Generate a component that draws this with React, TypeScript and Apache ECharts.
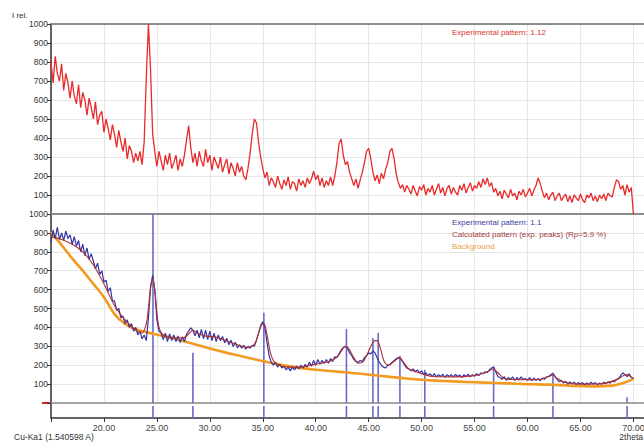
import React, { useEffect, useRef } from "react";
import * as echarts from "echarts";

// 2theta grid of the measured patterns
const X_START = 15;
const X_STEP = 0.2;

// Experimental pattern 1.12 (top panel), 15.0 .. 70.0 step 0.2
const topPattern = [
  800, 690, 830, 740, 700, 790, 650, 740, 690, 610,
  700, 620, 580, 680, 560, 640, 600, 520, 610, 560,
  500, 590, 470, 520, 540, 430, 500, 450, 390, 470,
  420, 350, 440, 380, 330, 400, 290, 360, 330, 270,
  320, 280, 330, 260, 380, 720, 1000, 760, 420, 330,
  250, 330, 280, 230, 310, 260, 320, 240, 270, 310,
  230, 290, 250, 310, 390, 465, 350, 270, 320, 250,
  330, 280, 250, 340, 270, 310, 230, 300, 270, 240,
  300, 220, 260, 290, 210, 270, 240, 200, 270, 220,
  250, 200, 180, 240, 320, 420, 500, 480, 380, 300,
  240, 190, 220, 150, 190, 170, 140, 200, 160, 130,
  180, 150, 195, 130, 170, 160, 120, 185, 150, 175,
  140, 190, 160, 185, 225, 180, 205, 150, 190, 140,
  175, 150, 195, 150, 200, 270, 370, 395, 310, 260,
  275, 220, 185, 150, 185, 135, 180, 220, 270, 330,
  345, 290, 220, 175, 205, 160, 215, 185, 235, 270,
  330, 345, 290, 210, 165, 135, 155, 115, 150, 130,
  105, 150, 120, 95, 145, 125, 155, 100, 135, 115,
  150, 100, 130, 160, 110, 140, 95, 135, 150, 105,
  140, 115, 100, 150, 125, 160, 110, 140, 165, 120,
  150, 135, 170, 140, 185, 155, 190, 145, 165, 115,
  135, 95, 120, 80, 125, 105, 85, 130, 95, 110,
  75, 120, 100, 130, 90, 110, 135, 95, 125, 150,
  190, 160, 120, 85, 110, 75, 100, 115, 70, 95,
  110, 70, 90, 105, 65, 95, 60, 100, 85, 70,
  105, 75, 60, 100, 85, 110, 70, 95, 65, 100,
  80, 105, 70, 110, 95, 90, 140, 180, 170, 130,
  150, 100, 155, 115, 140, 0,
];

// Experimental pattern 1.1 (bottom panel), 15.0 .. 70.0 step 0.2
const expPattern = [
  850, 915, 870, 930, 865, 900, 860, 910, 870, 890,
  840, 880, 830, 860, 800, 840, 780, 820, 760, 790,
  750, 710, 740, 680, 700, 640, 650, 590, 610, 540,
  540, 490, 500, 450, 460, 420, 440, 400, 420, 380,
  400, 360, 380, 340, 360, 330, 450, 610, 675, 600,
  440, 380, 370, 335, 370, 325, 365, 330, 360, 325,
  355, 320, 350, 325, 365, 380, 398, 385, 355, 385,
  345, 390, 340, 385, 335, 380, 330, 370, 325, 360,
  330, 352, 318, 342, 308, 332, 298, 322, 292, 308,
  290, 305, 285, 300, 290, 305, 300, 330, 370, 410,
  430, 400, 320, 250, 215, 200, 215, 190, 205, 185,
  195, 175, 190, 170, 190, 175, 195, 180, 200, 185,
  205, 190, 215, 195, 225, 200, 230, 205, 225, 210,
  230, 210, 235, 220, 245, 240, 260, 280, 295, 300,
  290, 265, 250, 230, 220, 215, 225, 220, 240, 250,
  265, 260, 275, 265, 240, 215, 200, 190, 185, 200,
  205, 215, 225, 235, 240, 235, 220, 200, 185, 180,
  170, 180, 165, 175, 160, 170, 150, 160, 145, 155,
  140, 155, 138, 150, 140, 152, 135, 150, 140, 150,
  138, 152, 140, 148, 135, 150, 140, 152, 138, 150,
  142, 155, 145, 160, 155, 165, 160, 175, 185, 190,
  165, 140, 135, 125, 140, 120, 135, 125, 138, 120,
  135, 122, 138, 125, 130, 120, 135, 118, 132, 120,
  128, 118, 132, 125, 138, 140, 150, 158, 140, 125,
  112, 120, 105, 115, 100, 112, 102, 110, 98, 108,
  100, 108, 96, 106, 98, 110, 100, 108, 97, 105,
  100, 110, 102, 112, 105, 115, 112, 125, 130, 145,
  160, 150, 140, 155, 135, 130,
];

// Calculated pattern (exp. peaks)
const calcX = [
  15, 16, 17, 18, 19, 20, 21, 22, 23, 23.6, 24.0, 24.2, 24.4, 24.6, 24.8, 25.0, 25.2, 25.6,
  26.5, 27.5, 28.0, 28.4, 28.8, 29.5, 30.5, 31.5, 32.5, 33.5, 34.2, 34.6, 34.9, 35.1, 35.4,
  35.7, 36.0, 36.5, 37.5, 38.5, 39.5, 40.5, 41.5, 42.2, 42.6, 42.9, 43.2, 43.6, 44.0, 44.4,
  44.8, 45.2, 45.6, 45.8, 46.1, 46.5, 46.9, 47.4, 47.9, 48.3, 48.8, 49.5, 50.3, 51, 53, 55,
  56, 56.5, 56.8, 57.2, 57.8, 59, 61, 62, 62.4, 62.8, 63.5, 65, 67, 68.5, 69.3, 70,
];
const calcY = [
  880, 865, 840, 800, 730, 630, 515, 440, 385, 370, 420, 500, 610, 660, 600, 480, 400, 360,
  345, 345, 365, 385, 370, 355, 350, 330, 310, 295, 310, 370, 415, 420, 360,
  270, 225, 200, 190, 190, 200, 210, 225, 255, 290, 300, 280, 240, 210, 215,
  250, 300, 330, 330, 290, 215, 200, 220, 240, 215, 180, 165, 150, 140, 138, 145,
  160, 175, 180, 160, 130, 123, 125, 140, 148, 130, 110, 100, 102, 125, 150, 130,
];

// Background
const bgX = [15, 16, 17, 18, 19, 20, 21, 22, 23, 24, 25, 26, 28, 30, 32, 34, 36, 38, 40, 42, 44, 46, 48, 50, 52, 54, 56, 58, 60, 62, 64, 66, 68, 69, 70];
const bgY = [905, 835, 765, 700, 630, 560, 470, 418, 390, 375, 362, 350, 320, 288, 260, 234, 210, 190, 176, 166, 156, 144, 133, 123, 117, 112, 108, 104, 100, 97, 92, 88, 92, 105, 128];

// Peak markers
const peakPos = [24.63, 28.4, 35.1, 42.9, 45.4, 45.9, 47.95, 50.3, 56.8, 62.4, 69.4];
const peakHeight = [1000, 266, 477, 392, 344, 372, 250, 176, 192, 150, 30];

const FONT = "'Liberation Sans', Arial, sans-serif";

export default function App() {
  const ref = useRef<HTMLDivElement>(null);

  useEffect(() => {
    if (!ref.current) return;
    const chart = echarts.init(ref.current, undefined, { renderer: "svg" });

    const toPairs = (arr: number[]) => arr.map((v, i) => [+(X_START + i * X_STEP).toFixed(2), v]);
    const zip = (xs: number[], ys: number[]) => xs.map((x, i) => [x, ys[i]]);

    const gridLine = { show: true, lineStyle: { color: "#e6e6e6", width: 1 } };
    const xBase = { type: "value", min: 15, max: 71, interval: 5 };
    const yLabel = {
      show: true,
      fontSize: 8.5,
      color: "#333",
      margin: 3,
      fontFamily: FONT,
      formatter: (v: number) => (v === 0 ? "" : String(v)),
    };

    const option: any = {
      animation: false,
      backgroundColor: "#ffffff",
      textStyle: { fontFamily: FONT },
      grid: [
        { left: 51, top: 24, width: 593, height: 190, outerBoundsMode: "none" },
        { left: 51, top: 214, width: 593, height: 189, outerBoundsMode: "none" },
        { left: 51, top: 403, width: 593, height: 15, outerBoundsMode: "none" },
      ],
      xAxis: [
        {
          ...xBase, gridIndex: 0, position: "top",
          axisLine: { show: true, onZero: false, lineStyle: { color: "#8c8c8c", width: 2 } },
          axisTick: { show: false }, axisLabel: { show: false }, splitLine: gridLine,
        },
        {
          ...xBase, gridIndex: 1, position: "top",
          axisLine: { show: true, onZero: false, lineStyle: { color: "#8c8c8c", width: 2 } },
          axisTick: { show: false }, axisLabel: { show: false }, splitLine: gridLine,
        },
        {
          ...xBase, gridIndex: 2, position: "bottom",
          axisLine: { show: true, onZero: false, lineStyle: { color: "#333", width: 1.5 } },
          axisTick: { show: true, length: 4, lineStyle: { color: "#333" } },
          axisLabel: {
            show: true, fontSize: 9, color: "#444", margin: 5, fontFamily: FONT,
            formatter: (v: number) => (v < 16 || v > 70.5 ? "" : v.toFixed(2)),
          },
          splitLine: { show: false },
        },
        {
          ...xBase, gridIndex: 1, position: "bottom",
          axisLine: { show: true, onZero: false, lineStyle: { color: "#8c8c8c", width: 1.5 } },
          axisTick: { show: false }, axisLabel: { show: false }, splitLine: { show: false },
        },
      ],
      yAxis: [
        {
          type: "value", gridIndex: 0, min: 0, max: 1000, interval: 100,
          axisLine: { show: true, onZero: false, lineStyle: { color: "#333", width: 1.5 } },
          axisTick: { show: true, length: 4, lineStyle: { color: "#333" } },
          axisLabel: yLabel, splitLine: gridLine,
        },
        {
          type: "value", gridIndex: 1, min: 0, max: 1000, interval: 100,
          axisLine: { show: true, onZero: false, lineStyle: { color: "#333", width: 1.5 } },
          axisTick: { show: true, length: 4, lineStyle: { color: "#333" } },
          axisLabel: yLabel, splitLine: gridLine,
        },
        {
          type: "value", gridIndex: 2, min: 0, max: 1,
          axisLine: { show: true, onZero: false, lineStyle: { color: "#333", width: 1.5 } },
          axisTick: { show: false }, axisLabel: { show: false }, splitLine: { show: false },
        },
      ],
      series: [
        {
          type: "line", xAxisIndex: 0, yAxisIndex: 0, data: toPairs(topPattern),
          showSymbol: false, lineStyle: { color: "#e82a2a", width: 1.3 }, z: 3,
        },
        {
          type: "bar", xAxisIndex: 1, yAxisIndex: 1, data: zip(peakPos, peakHeight),
          barWidth: 1.6, itemStyle: { color: "#6a6acc" }, z: 2,
        },
        {
          type: "bar", xAxisIndex: 2, yAxisIndex: 2, data: peakPos.map((p) => [p, 0.8]),
          barWidth: 1.6, itemStyle: { color: "#6a6acc" }, z: 2,
        },
        {
          type: "line", xAxisIndex: 1, yAxisIndex: 1, data: zip(bgX, bgY), smooth: 0.4,
          showSymbol: false, lineStyle: { color: "#f29a22", width: 2.6 }, z: 3,
        },
        {
          type: "line", xAxisIndex: 1, yAxisIndex: 1, data: toPairs(expPattern),
          showSymbol: false, lineStyle: { color: "#3434a4", width: 1.2 }, z: 4,
        },
        {
          type: "line", xAxisIndex: 1, yAxisIndex: 1, data: zip(calcX, calcY), smooth: 0.3,
          showSymbol: false, lineStyle: { color: "#b03030", width: 1.1 }, z: 5,
        },
      ],
    };

    chart.setOption(option);

    const p0 = chart.convertToPixel({ gridIndex: 1 }, [15, 0]) as number[];
    const txt = (x: number, y: number, text: string, fill: string, size = 8, align = "left") => ({
      type: "text", x, y, silent: true,
      style: { text, fill, font: `${size}px ${FONT}`, verticalAlign: "middle", align },
    });
    chart.setOption({
      graphic: [
        txt(12, 15, "I rel.", "#333", 8),
        txt(452, 32, "Experimental pattern: 1.12", "#d83232", 8),
        txt(452, 222, "Experimental pattern: 1.1", "#3a3aa4", 8),
        txt(452, 234, "Calculated pattern (exp. peaks) (Rp=5.9 %)", "#a23a3a", 8),
        txt(452, 246, "Background", "#e8a040", 8),
        txt(14, 437, "Cu-Ka1 (1.540598 A)", "#333", 8.5),
        txt(643, 437, "2theta", "#333", 8.5, "right"),
        {
          type: "line", silent: true,
          shape: { x1: p0[0] - 9, y1: p0[1], x2: p0[0], y2: p0[1] },
          style: { stroke: "#e02020", lineWidth: 2 },
        },
      ],
    });

    return () => chart.dispose();
  }, []);

  return (
    <div
      ref={ref}
      style={{ position: "fixed", left: 0, top: 0, width: 644, height: 442, background: "#fff" }}
    />
  );
}
